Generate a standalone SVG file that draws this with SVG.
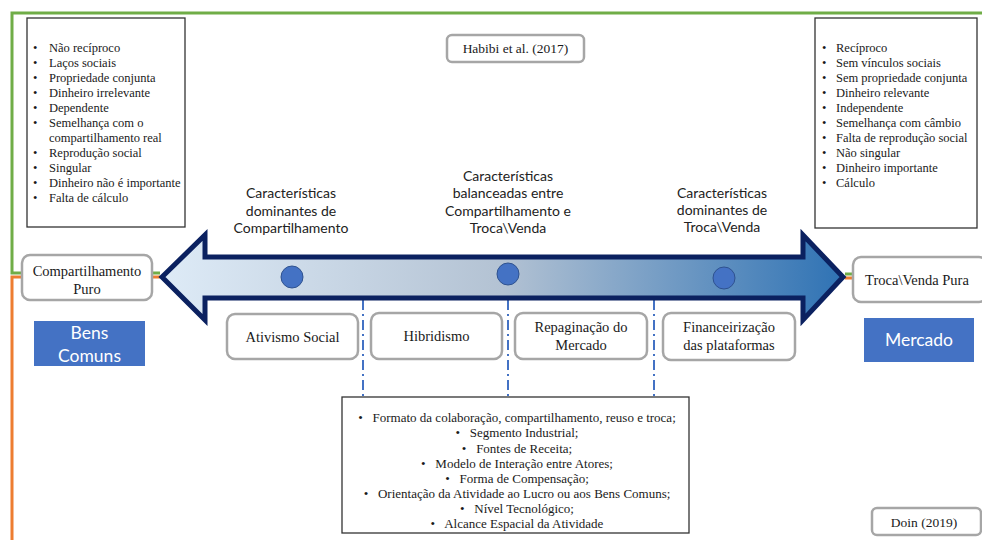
<svg xmlns="http://www.w3.org/2000/svg" width="982" height="540" viewBox="0 0 982 540">
<defs>
<linearGradient id="shaft" x1="160" y1="0" x2="845" y2="0" gradientUnits="userSpaceOnUse">
<stop offset="0" stop-color="#deebf7"/>
<stop offset="0.5" stop-color="#b3c2d3"/>
<stop offset="1" stop-color="#2e72b4"/>
</linearGradient>
<style>
.rbox{fill:#fff;stroke:#a6a6a6;stroke-width:2.5}
.lbox{fill:#fff;stroke:#333;stroke-width:1.3}
.blue{fill:#4472c4}
.dot{fill:#4472c4;stroke:#2f528f;stroke-width:1}
.dd{stroke:#4472c4;stroke-width:2;stroke-dasharray:10 4 2 4;fill:none}
.green{stroke:#70ad47;stroke-width:3;fill:none}
.orange{stroke:#ed7d31;stroke-width:3;fill:none}
</style>
</defs>
<rect width="982" height="540" fill="#fff"/>

<g id="connectors">
<path class="green" d="M982,13 H12 V273 H22 M152,273 H160 M845,274 H853"/>
<path class="orange" d="M12,540 V277 H22 M152,277 H160 M845,278 H853"/>
<line class="dd" x1="363" y1="300" x2="363" y2="397"/>
<line class="dd" x1="508" y1="300" x2="508" y2="397"/>
<line class="dd" x1="654" y1="300" x2="654" y2="397"/>
</g>

<g id="arrow">
<path d="M162,277 L205,235 L205,257 L803,257 L803,235 L843,277 L803,320 L803,298 L205,298 L205,320 Z" fill="url(#shaft)" stroke="#0b2160" stroke-width="5" stroke-linejoin="miter"/>
<circle class="dot" cx="292" cy="277" r="11"/>
<circle class="dot" cx="508" cy="274" r="11"/>
<circle class="dot" cx="724" cy="278" r="11"/>
</g>

<g id="list-left">
<rect class="lbox" x="27" y="18" width="158" height="209"/>
<g font-family="Liberation Serif, Times New Roman, serif" font-size="12.5" fill="#1a1a1a">
<text x="33" y="52">•</text><text x="49" y="52">Não recíproco</text>
<text x="33" y="67">•</text><text x="49" y="67">Laços sociais</text>
<text x="33" y="82">•</text><text x="49" y="82">Propriedade conjunta</text>
<text x="33" y="97">•</text><text x="49" y="97">Dinheiro irrelevante</text>
<text x="33" y="112">•</text><text x="49" y="112">Dependente</text>
<text x="33" y="127">•</text><text x="49" y="127">Semelhança com o</text>
<text x="49" y="142">compartilhamento real</text>
<text x="33" y="157">•</text><text x="49" y="157">Reprodução social</text>
<text x="33" y="172">•</text><text x="49" y="172">Singular</text>
<text x="33" y="187">•</text><text x="49" y="187">Dinheiro não é importante</text>
<text x="33" y="202">•</text><text x="49" y="202">Falta de cálculo</text>
</g>
</g>

<g id="list-right">
<rect class="lbox" x="815" y="18" width="162" height="210"/>
<g font-family="Liberation Serif, Times New Roman, serif" font-size="12.5" fill="#1a1a1a">
<text x="822" y="52">•</text><text x="836" y="52">Recíproco</text>
<text x="822" y="67">•</text><text x="836" y="67">Sem vínculos sociais</text>
<text x="822" y="82">•</text><text x="836" y="82">Sem propriedade conjunta</text>
<text x="822" y="97">•</text><text x="836" y="97">Dinheiro relevante</text>
<text x="822" y="112">•</text><text x="836" y="112">Independente</text>
<text x="822" y="127">•</text><text x="836" y="127">Semelhança com câmbio</text>
<text x="822" y="142">•</text><text x="836" y="142">Falta de reprodução social</text>
<text x="822" y="157">•</text><text x="836" y="157">Não singular</text>
<text x="822" y="172">•</text><text x="836" y="172">Dinheiro importante</text>
<text x="822" y="187">•</text><text x="836" y="187">Cálculo</text>
</g>
</g>

<g id="habibi">
<rect class="rbox" x="447" y="35" width="137" height="27" rx="5"/>
<text x="515.5" y="53" font-size="13.5" text-anchor="middle" font-family="Liberation Serif, Times New Roman, serif" fill="#1a1a1a">Habibi et al. (2017)</text>
</g>

<g font-family="Lato, Open Sans, Liberation Sans, sans-serif" font-size="14" fill="#222" text-anchor="middle">
<g id="head-left">
<text><tspan x="291" y="198">Características</tspan><tspan x="291" y="216">dominantes de</tspan><tspan x="291" y="233">Compartilhamento</tspan></text>
</g>
<g id="head-mid">
<text><tspan x="508" y="181">Características</tspan><tspan x="508" y="198">balanceadas entre</tspan><tspan x="508" y="216">Compartilhamento e</tspan><tspan x="508" y="233">Troca\Venda</tspan></text>
</g>
<g id="head-right">
<text><tspan x="722" y="198">Características</tspan><tspan x="722" y="215">dominantes de</tspan><tspan x="722" y="232">Troca\Venda</tspan></text>
</g>
</g>

<g font-family="Liberation Serif, Times New Roman, serif" font-size="14.5" fill="#1a1a1a" text-anchor="middle">
<g id="compartilhamento-puro">
<rect class="rbox" x="22" y="255" width="130" height="45" rx="8"/>
<text><tspan x="87" y="276">Compartilhamento</tspan><tspan x="87" y="294">Puro</tspan></text>
</g>
<g id="troca-venda-pura">
<rect class="rbox" x="853" y="257" width="134" height="45" rx="8"/>
<text x="917" y="285">Troca\Venda Pura</text>
</g>
<g id="ativismo-social">
<rect class="rbox" x="227" y="314" width="131" height="45" rx="8"/>
<text x="292.5" y="342">Ativismo Social</text>
</g>
<g id="hibridismo">
<rect class="rbox" x="371" y="313" width="131" height="46" rx="8"/>
<text x="436.5" y="341">Hibridismo</text>
</g>
<g id="repaginacao">
<rect class="rbox" x="515" y="313" width="132" height="46" rx="8"/>
<text><tspan x="581" y="332">Repaginação do</tspan><tspan x="581" y="350">Mercado</tspan></text>
</g>
<g id="financeirizacao">
<rect class="rbox" x="663" y="313" width="132" height="47" rx="8"/>
<text><tspan x="729" y="332">Financeirização</tspan><tspan x="729" y="350">das plataformas</tspan></text>
</g>
</g>

<g font-family="Lato, Open Sans, Liberation Sans, sans-serif" font-size="17.5" fill="#fff" text-anchor="middle">
<g id="bens-comuns">
<rect class="blue" x="34" y="321" width="111" height="45"/>
<text><tspan x="89.5" y="339">Bens</tspan><tspan x="89.5" y="362">Comuns</tspan></text>
</g>
<g id="mercado">
<rect class="blue" x="864" y="318" width="110" height="44"/>
<text x="919" y="346">Mercado</text>
</g>
</g>

<g id="dimensoes">
<rect class="lbox" x="342" y="397" width="347" height="136"/>
<g font-family="Liberation Serif, Times New Roman, serif" font-size="13" fill="#1a1a1a" text-anchor="middle">
<text x="517" y="422">•&#160;&#160; Formato da colaboração, compartilhamento, reuso e troca;</text>
<text x="517" y="437">•&#160;&#160; Segmento Industrial;</text>
<text x="517" y="452.5">•&#160;&#160; Fontes de Receita;</text>
<text x="517" y="467.5">•&#160;&#160; Modelo de Interação entre Atores;</text>
<text x="517" y="482.5">•&#160;&#160; Forma de Compensação;</text>
<text x="517" y="497.5">•&#160;&#160; Orientação da Atividade ao Lucro ou aos Bens Comuns;</text>
<text x="517" y="513">•&#160;&#160; Nível Tecnológico;</text>
<text x="517" y="528">•&#160;&#160; Alcance Espacial da Atividade</text>
</g>
</g>

<g id="doin">
<rect class="rbox" x="872" y="508" width="109" height="27" rx="5"/>
<text x="924" y="527" font-size="13.5" text-anchor="middle" font-family="Liberation Serif, Times New Roman, serif" fill="#1a1a1a">Doin (2019)</text>
</g>
</svg>
